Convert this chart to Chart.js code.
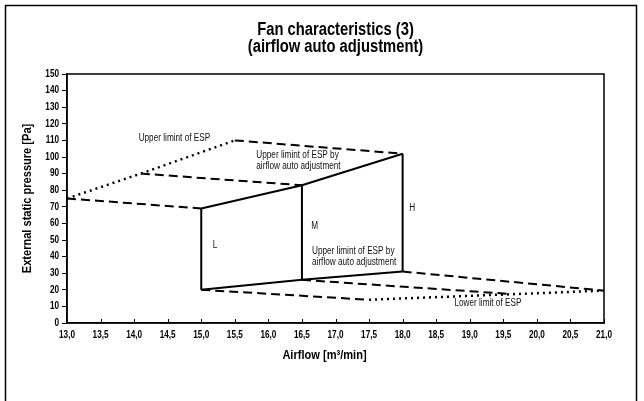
<!DOCTYPE html>
<html><head><meta charset="utf-8">
<script src="https://cdn.jsdelivr.net/npm/chart.js@4.4.1/dist/chart.umd.min.js"></script>
<style>html,body{margin:0;padding:0;background:#fff}#wrap{width:644px;height:401px;position:relative}</style>
</head><body><div id="wrap"><canvas id="c" width="644" height="401"></canvas></div>
<script>
// ---- data ----
const titleLines = ['Fan characteristics (3)', '(airflow auto adjustment)'];
const xTitle = 'Airflow [m³/min]';
const yTitle = 'External static pressure [Pa]';
const xMin = 13.0, xMax = 21.0, xStep = 0.5;
const yMin = 0, yMax = 150, yStep = 10;

// Upper limit of ESP (dotted then dashed)
const upperLimitDotX = [13.0, 14.1, 15.5];
const upperLimitDotY = [75, 90, 110];
const upperLimitDashX = [15.5, 18.0];
const upperLimitDashY = [110, 102];
// dashed connectors at top
const topDashAX = [14.1, 16.5];
const topDashAY = [90, 83];
const topDashBX = [13.0, 15.0];
const topDashBY = [75, 69];
// upper limit by auto adjustment (solid)
const autoUpperX = [15.0, 16.5, 18.0];
const autoUpperY = [69, 83, 102];
// lower solid
const autoLowerX = [15.0, 16.5, 18.0];
const autoLowerY = [20, 26, 31];
// L, M, H verticals
const lX = [15.0, 15.0], lY = [69, 20];
const mX = [16.5, 16.5], mY = [83, 26];
const hX = [18.0, 18.0], hY = [102, 31];
// bottom dashed connectors
const botDashLX = [15.0, 17.5], botDashLY = [20, 14];
const botDashMX = [16.5, 19.6], botDashMY = [26, 17.5];
const botDashHX = [18.0, 21.0], botDashHY = [31, 19.5];
// Lower limit of ESP (dotted)
const lowerLimitX = [17.5, 21.0];
const lowerLimitY = [14, 19.5];

// annotation texts (anchored in data coordinates)
const notes = [
  {t: ['Upper limint of ESP'], x: 14.6, y: 111.5, align: 'center'},
  {t: ['Upper limint of ESP by', 'airflow auto adjustment'], x: 15.82, y: 101, align: 'left'},
  {t: ['Upper limint of ESP by', 'airflow auto adjustment'], x: 16.65, y: 43, align: 'left'},
  {t: ['L'], x: 15.17, y: 47, align: 'left'},
  {t: ['M'], x: 16.64, y: 58, align: 'left'},
  {t: ['H'], x: 18.1, y: 69, align: 'left'},
  {t: ['Lower limit of ESP'], x: 19.27, y: 12, align: 'center'}
];

// ---- rendering ----
const FONT = "'Liberation Sans', Arial, sans-serif";
const NARROW = 0.82; // emulate a condensed face
Chart.defaults.font.family = FONT;
const DASH = [9, 5], DOT = [2, 4];
function seg(xs, ys, style) {
  return {
    data: xs.map((x, i) => ({x: x, y: ys[i]})),
    showLine: true, pointRadius: 0, borderColor: '#000', backgroundColor: '#000',
    borderWidth: style === 'dot' ? 2.5 : 2,
    borderDash: style === 'dash' ? DASH : style === 'dot' ? DOT : [],
    fill: false, tension: 0
  };
}
const datasets = [
  seg(upperLimitDotX, upperLimitDotY, 'dot'),
  seg(upperLimitDashX, upperLimitDashY, 'dash'),
  seg(topDashAX, topDashAY, 'dash'),
  seg(topDashBX, topDashBY, 'dash'),
  seg(autoUpperX, autoUpperY, 'solid'),
  seg(autoLowerX, autoLowerY, 'solid'),
  seg(lX, lY, 'solid'), seg(mX, mY, 'solid'), seg(hX, hY, 'solid'),
  seg(botDashLX, botDashLY, 'dash'),
  seg(botDashMX, botDashMY, 'dash'),
  seg(botDashHX, botDashHY, 'dash'),
  seg(lowerLimitX, lowerLimitY, 'dot')
];

function txt(ctx, s, x, y, font, align, rot) {
  ctx.save();
  ctx.font = font;
  ctx.textAlign = align;
  ctx.textBaseline = 'middle';
  ctx.translate(x, y);
  if (rot) ctx.rotate(rot);
  ctx.scale(NARROW, 1);
  ctx.fillText(s, 0, 0);
  ctx.restore();
}

const decor = {
  id: 'decor',
  beforeDraw(chart) {
    const ctx = chart.ctx;
    ctx.save();
    ctx.fillStyle = '#fff';
    ctx.fillRect(0, 0, chart.width, chart.height);
    ctx.strokeStyle = '#000';
    ctx.lineWidth = 1.5;
    ctx.strokeRect(5.5, 5.5, 631, 420);
    ctx.restore();
  },
  afterDatasetsDraw(chart) {
    const ctx = chart.ctx, a = chart.chartArea;
    const xs = chart.scales.x, ys = chart.scales.y;
    ctx.save();
    ctx.strokeStyle = '#000';
    ctx.lineWidth = 1.5;
    ctx.strokeRect(a.left, a.top, a.right - a.left, a.bottom - a.top);
    // inward x ticks
    ctx.lineWidth = 1;
    xs.ticks.forEach(t => {
      const px = Math.round(xs.getPixelForValue(t.value)) + 0.5;
      ctx.beginPath(); ctx.moveTo(px, a.bottom); ctx.lineTo(px, a.bottom - 4); ctx.stroke();
    });
    ctx.fillStyle = '#000';
    // tick labels (condensed)
    const tf = 'bold 10px ' + FONT;
    xs.ticks.forEach(t => {
      const lbl = t.value.toFixed(1).replace('.', ',');
      txt(ctx, lbl, xs.getPixelForValue(t.value), a.bottom + 12, tf, 'center');
    });
    ys.ticks.forEach(t => {
      txt(ctx, String(t.value), a.left - 8, ys.getPixelForValue(t.value), tf, 'right');
    });
    // annotations
    ctx.fillStyle = '#111';
    notes.forEach(n => {
      const px = xs.getPixelForValue(n.x), py = ys.getPixelForValue(n.y);
      n.t.forEach((line, i) => txt(ctx, line, px, py + i * 10.5, '10px ' + FONT, n.align));
    });
    // titles
    ctx.fillStyle = '#000';
    const cx = (a.left + a.right) / 2;
    txt(ctx, titleLines[0], cx, 30, 'bold 18px ' + FONT, 'center');
    txt(ctx, titleLines[1], cx, 47, 'bold 18px ' + FONT, 'center');
    txt(ctx, xTitle, cx - 11, 355, 'bold 13.5px ' + FONT, 'center');
    txt(ctx, yTitle, 27, (a.top + a.bottom) / 2, 'bold 13.5px ' + FONT, 'center', -Math.PI / 2);
    ctx.restore();
  }
};

new Chart(document.getElementById('c'), {
  type: 'scatter',
  data: {datasets},
  options: {
    responsive: false, animation: false, devicePixelRatio: 1,
    layout: {padding: {top: 74, right: 40, bottom: 28, left: 6}},
    plugins: {legend: {display: false}, tooltip: {enabled: false}, title: {display: false}},
    scales: {
      x: {
        type: 'linear', min: xMin, max: xMax,
        afterFit: s => { s.height = 50; },
        ticks: {stepSize: xStep, autoSkip: false, maxRotation: 0, display: false},
        grid: {drawOnChartArea: false, tickLength: 0, color: '#000'},
        border: {color: '#000', width: 1.5}
      },
      y: {
        type: 'linear', min: yMin, max: yMax,
        afterFit: s => { s.width = 61; },
        ticks: {stepSize: yStep, display: false},
        grid: {drawOnChartArea: false, tickLength: 5, color: '#000'},
        border: {color: '#000', width: 1.5}
      }
    }
  },
  plugins: [decor]
});
</script>
</body></html>
